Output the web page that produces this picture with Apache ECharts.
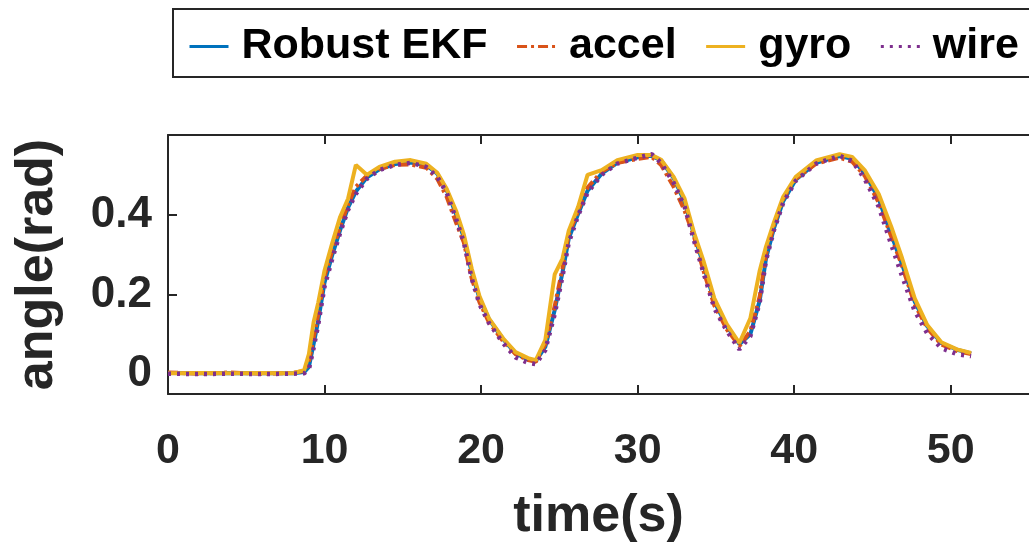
<!DOCTYPE html>
<html>
<head>
<meta charset="utf-8">
<script src="https://cdn.jsdelivr.net/npm/echarts@6/dist/echarts.min.js"></script>
<style>
  html, body { margin: 0; padding: 0; background: #fff; }
  #main { width: 1029px; height: 549px; }
</style>
</head>
<body>
<div id="main"></div>
<script>
// time samples (s), shared by all four traces
var time = [0, 2, 4, 6, 8,
    8.7, 9.0, 9.3, 9.6, 10.0,
    10.5, 11.0, 11.5, 12.0, 12.7,
    13.5, 14.5, 15.5, 16.5, 17.2,
    17.8, 18.4, 18.9, 19.4, 19.9,
    20.5, 21.4, 22.2, 23.0, 23.5,
    24.1, 24.7, 25.2, 25.6, 26.2,
    26.8, 27.7, 28.7, 30.0, 30.9,
    31.5, 32.3, 33.0, 33.6, 34.2,
    34.9, 35.7, 36.5, 37.2, 37.8,
    38.2, 38.7, 39.3, 40.1, 41.4,
    42.9, 43.7, 44.5, 45.4, 46.2,
    46.9, 47.7, 48.5, 49.4, 50.4,
    51.3];

var robustEkf = [0.003, 0.002, 0.003, 0.002, 0.002,
    0.005, 0.018, 0.075, 0.135, 0.23,
    0.30, 0.362, 0.418, 0.458, 0.493,
    0.514, 0.527, 0.531, 0.524, 0.503,
    0.462, 0.402, 0.342, 0.255, 0.19,
    0.138, 0.088, 0.052, 0.037, 0.033,
    0.068, 0.16, 0.255, 0.34, 0.402,
    0.46, 0.503, 0.53, 0.544, 0.548,
    0.536, 0.492, 0.432, 0.35, 0.275,
    0.182, 0.12, 0.075, 0.10, 0.185,
    0.29, 0.365, 0.434, 0.488, 0.53,
    0.547, 0.54, 0.505, 0.44, 0.35,
    0.275, 0.182, 0.12, 0.078, 0.061,
    0.052];

var accel = [0.004, 0.001, 0.004, 0.001, 0.003,
    0.008, 0.03, 0.09, 0.15, 0.245,
    0.31, 0.37, 0.425, 0.47, 0.498,
    0.515, 0.525, 0.526, 0.518, 0.49,
    0.445, 0.38, 0.33, 0.24, 0.18,
    0.13, 0.083, 0.05, 0.035, 0.031,
    0.075, 0.17, 0.265, 0.35, 0.41,
    0.468, 0.508, 0.53, 0.54, 0.545,
    0.525, 0.47, 0.41, 0.345, 0.26,
    0.172, 0.112, 0.07, 0.108, 0.195,
    0.30, 0.372, 0.44, 0.49, 0.528,
    0.543, 0.533, 0.498, 0.43, 0.345,
    0.27, 0.175, 0.115, 0.074, 0.058,
    0.05];

var gyro = [0.002, 0.003, 0.002, 0.003, 0.002,
    0.01, 0.05, 0.13, 0.18, 0.26,
    0.33, 0.395, 0.44, 0.525, 0.50,
    0.52, 0.533, 0.537, 0.528, 0.505,
    0.465, 0.41, 0.35, 0.265, 0.195,
    0.14, 0.09, 0.055, 0.04, 0.035,
    0.085, 0.25, 0.29, 0.36, 0.42,
    0.50, 0.512, 0.537, 0.55, 0.55,
    0.538, 0.495, 0.44, 0.355, 0.285,
    0.19, 0.125, 0.078, 0.14, 0.26,
    0.32, 0.38, 0.445, 0.495, 0.536,
    0.552, 0.545, 0.512, 0.452, 0.37,
    0.29, 0.19, 0.123, 0.08, 0.062,
    0.053];

var wire = [0.001, 0.0, 0.001, 0.0, 0.001,
    0.002, 0.012, 0.065, 0.125, 0.22,
    0.29, 0.355, 0.412, 0.452, 0.49,
    0.512, 0.525, 0.53, 0.52, 0.495,
    0.455, 0.39, 0.33, 0.24, 0.175,
    0.128, 0.078, 0.042, 0.028, 0.025,
    0.06, 0.15, 0.245, 0.33, 0.398,
    0.455, 0.50, 0.528, 0.543, 0.552,
    0.53, 0.48, 0.42, 0.335, 0.255,
    0.165, 0.108, 0.062, 0.095, 0.18,
    0.285, 0.36, 0.43, 0.485, 0.528,
    0.548, 0.535, 0.49, 0.42, 0.325,
    0.245, 0.158, 0.102, 0.065, 0.05,
    0.045];

var xTicks = [0, 10, 20, 30, 40, 50];
var yTicks = [0, 0.2, 0.4];

function pairs(vals) {
    return time.map(function (t, i) { return [t, vals[i]]; });
}

var fontFam = '"Liberation Sans", Arial, sans-serif';
var axisColor = '#262626';

var option = {
    animation: false,
    backgroundColor: '#fff',
    legend: {
        left: 173,
        top: 9,
        width: 900,
        padding: [16, 14, 9, 15],
        itemGap: 28,
        itemWidth: 39,
        itemHeight: 14,
        borderColor: axisColor,
        borderWidth: 2,
        itemStyle: { opacity: 0 },
        lineStyle: { width: 3 },
        textStyle: {
            fontFamily: fontFam,
            fontWeight: 'bold',
            fontSize: 43,
            color: '#000',
            padding: [0, 0, 0, 8]
        },
        data: ['Robust EKF', 'accel', 'gyro', 'wire']
    },
    grid: {
        left: 168,
        top: 135,
        width: 871,
        height: 259
    },
    xAxis: [{
        type: 'value',
        min: 0,
        max: 55,
        position: 'bottom',
        name: 'time(s)',
        nameLocation: 'middle',
        nameGap: 97,
        nameTextStyle: {
            fontFamily: fontFam,
            fontWeight: 'bold',
            fontSize: 52,
            color: axisColor
        },
        axisLine: { show: true, onZero: false, lineStyle: { color: axisColor, width: 2 } },
        axisTick: {
            show: true, inside: true, length: 9,
            customValues: xTicks,
            lineStyle: { color: axisColor, width: 2 }
        },
        axisLabel: {
            customValues: xTicks,
            margin: 36,
            fontFamily: fontFam,
            fontWeight: 'bold',
            fontSize: 43,
            color: axisColor
        },
        splitLine: { show: false }
    }, {
        type: 'value',
        min: 0,
        max: 55,
        position: 'top',
        axisLine: { show: true, onZero: false, lineStyle: { color: axisColor, width: 2 } },
        axisTick: {
            show: true, inside: true, length: 9,
            customValues: xTicks,
            lineStyle: { color: axisColor, width: 2 }
        },
        axisLabel: { show: false },
        splitLine: { show: false }
    }],
    yAxis: {
        type: 'value',
        min: -0.05,
        max: 0.6,
        name: 'angle(rad)',
        nameLocation: 'middle',
        nameGap: 104,
        nameTextStyle: {
            fontFamily: fontFam,
            fontWeight: 'bold',
            fontSize: 52,
            color: axisColor
        },
        axisLine: { show: true, lineStyle: { color: axisColor, width: 2 } },
        axisTick: {
            show: true, inside: true, length: 9,
            customValues: yTicks,
            lineStyle: { color: axisColor, width: 2 }
        },
        axisLabel: {
            customValues: yTicks,
            margin: 16,
            fontFamily: fontFam,
            fontWeight: 'bold',
            fontSize: 44,
            color: axisColor
        },
        splitLine: { show: false }
    },
    series: [{
        name: 'Robust EKF',
        type: 'line',
        showSymbol: false,
        symbol: 'none',
        lineStyle: { color: '#0072BD', width: 4 },
        itemStyle: { color: '#0072BD' },
        data: pairs(robustEkf)
    }, {
        name: 'accel',
        type: 'line',
        showSymbol: false,
        symbol: 'none',
        lineStyle: { color: '#D95319', width: 4, type: [10, 4, 3, 4] },
        itemStyle: { color: '#D95319' },
        data: pairs(accel)
    }, {
        name: 'gyro',
        type: 'line',
        showSymbol: false,
        symbol: 'none',
        lineStyle: { color: '#EDB120', width: 4 },
        itemStyle: { color: '#EDB120' },
        data: pairs(gyro)
    }, {
        name: 'wire',
        type: 'line',
        showSymbol: false,
        symbol: 'none',
        lineStyle: { color: '#7E2F8E', width: 4.5, type: [3, 6] },
        itemStyle: { color: '#7E2F8E' },
        data: pairs(wire)
    }]
};

var myChart = echarts.init(document.getElementById('main'));
myChart.setOption(option);
</script>
</body>
</html>
